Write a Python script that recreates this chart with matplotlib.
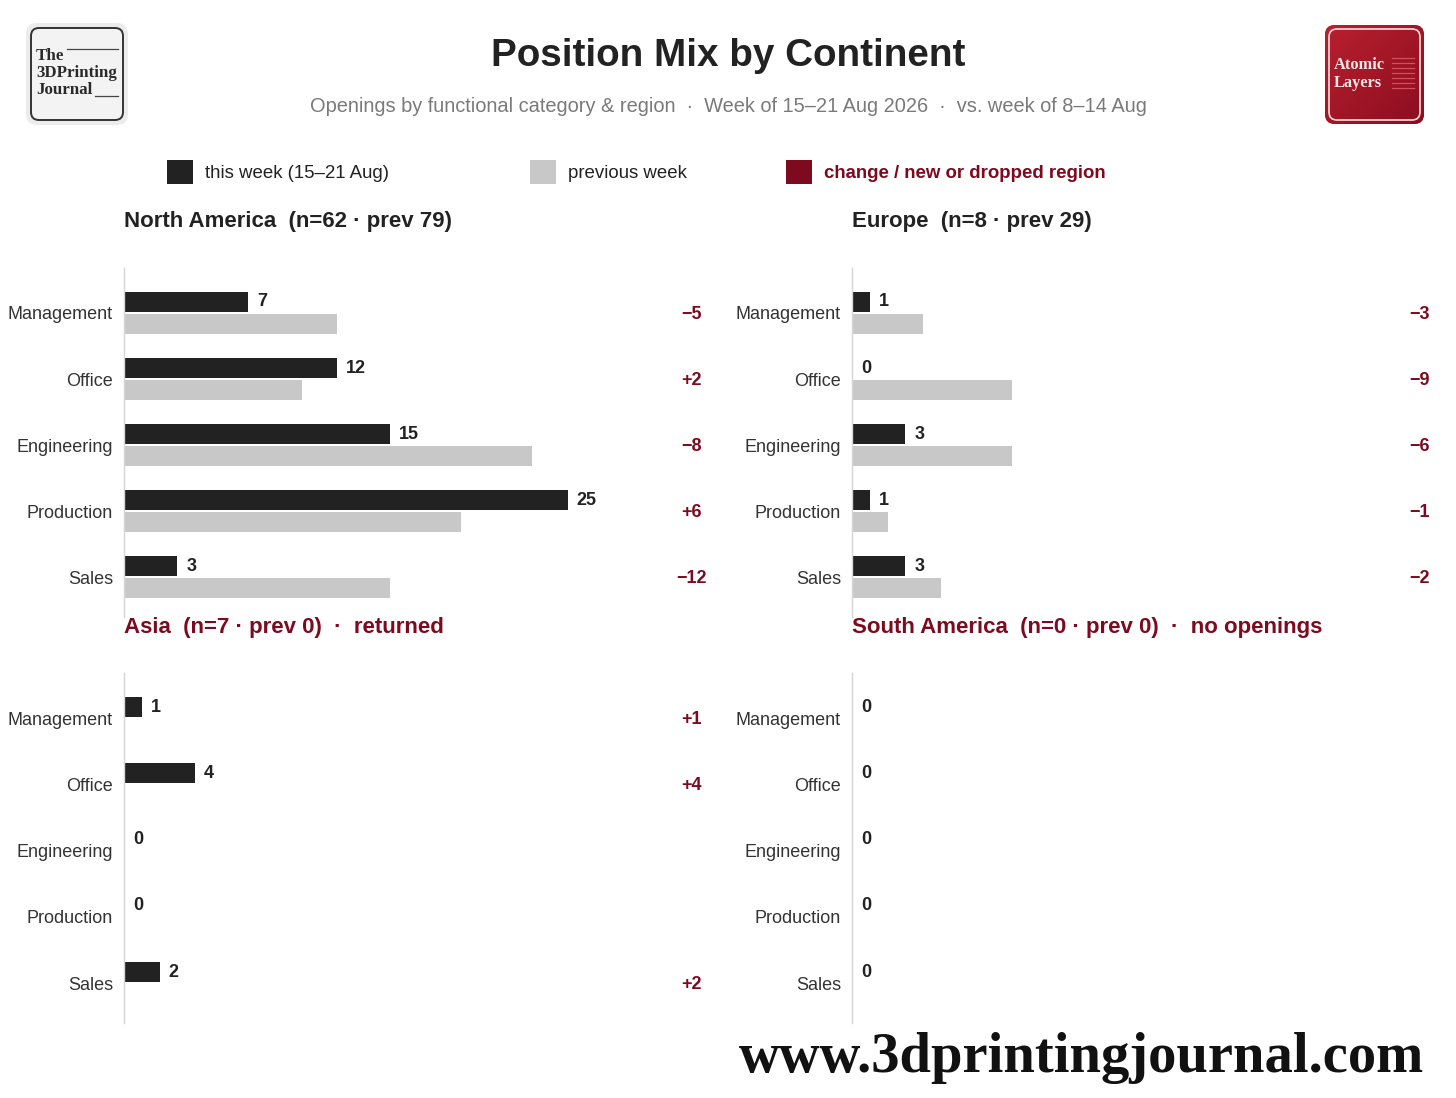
import numpy as np
import matplotlib
matplotlib.use("Agg")
from matplotlib import pyplot as plt
from matplotlib.patches import FancyBboxPatch, Rectangle

plt.rcParams['font.family'] = ['Liberation Sans', 'DejaVu Sans']

categories = ['Management', 'Office', 'Engineering', 'Production', 'Sales']

na_this = [7, 12, 15, 25, 3]
na_prev = [12, 10, 23, 19, 15]
eu_this = [1, 0, 3, 1, 3]
eu_prev = [4, 9, 9, 2, 5]
as_this = [1, 4, 0, 0, 2]
as_prev = [0, 0, 0, 0, 0]
sa_this = [0, 0, 0, 0, 0]
sa_prev = [0, 0, 0, 0, 0]

panel_titles = ['North America  (n=62 · prev 79)',
                'Europe  (n=8 · prev 29)',
                'Asia  (n=7 · prev 0)  ·  returned',
                'South America  (n=0 · prev 0)  ·  no openings']
title_red = [False, False, True, True]

DARK = '#222222'
GRAY = '#c8c8c8'
RED = '#7d0a1e'

W, H = 1456, 1098
fig = plt.figure(figsize=(W / 100, H / 100), dpi=100)
fig.patch.set_facecolor('white')

def fx(px):
    return px / W

def fy(py):
    return 1 - py / H

# decoration layer in pixel coords
deco = fig.add_axes([0, 0, 1, 1], zorder=0)
deco.set_xlim(0, W)
deco.set_ylim(H, 0)
deco.axis('off')
deco.patch.set_alpha(0)

# left logo
deco.add_patch(FancyBboxPatch((26, 23), 102, 102, boxstyle='round,pad=0,rounding_size=11',
                              fc='#ececec', ec='none'))
deco.add_patch(FancyBboxPatch((31, 28), 92, 92, boxstyle='round,pad=0,rounding_size=8',
                              fc='#f3f3f3', ec='#333333', lw=1.4))
for txt, yy in [('The', 56), ('3DPrinting', 73), ('Journal', 90)]:
    deco.text(36, yy, txt, family='Liberation Serif', weight='bold', fontsize=12.2,
              color='#2a2a2a', va='center', ha='left')
deco.plot([67, 118], [49, 49], color='#444444', lw=0.9)
deco.plot([95, 118], [96, 96], color='#444444', lw=0.9)

# right logo
red_box = FancyBboxPatch((1325, 25), 99, 99, boxstyle='round,pad=0,rounding_size=10',
                         fc='#a0152a', ec='none')
deco.add_patch(red_box)
grad = np.linspace(0, 1, 64)[None, :] + np.linspace(0, 1, 64)[:, None]
im = deco.imshow(grad, extent=[1325, 1424, 124, 25], cmap=matplotlib.colors.LinearSegmentedColormap.from_list(
    'rg', ['#b8202e', '#8c0d20']), aspect='auto', zorder=1)
im.set_clip_path(red_box)
deco.add_patch(FancyBboxPatch((1329, 29), 91, 91, boxstyle='round,pad=0,rounding_size=8',
                              fc='none', ec='#f4dede', lw=1.2, zorder=2))
for txt, yy in [('Atomic', 65), ('Layers', 83)]:
    deco.text(1334, yy, txt, family='Liberation Serif', weight='bold', fontsize=11.8,
              color='#f6e8e8', va='center', ha='left', zorder=3)
for yy in np.arange(58, 92, 5):
    deco.plot([1392, 1414], [yy, yy], color='#d2505c', lw=0.9, zorder=3)
deco.set_xlim(0, W)
deco.set_ylim(H, 0)

# title and subtitle
fig.text(fx(728), fy(56), 'Position Mix by Continent', ha='center', va='center',
         fontsize=27.8, weight='bold', color=DARK)
fig.text(fx(728), fy(106),
         'Openings by functional category & region  ·  Week of 15–21 Aug 2026  ·  vs. week of 8–14 Aug',
         ha='center', va='center', fontsize=14.4, color='#7a7a7a')

# legend
legend_items = [(167, DARK, 'this week (15–21 Aug)', DARK, 'normal'),
                (530, GRAY, 'previous week', DARK, 'normal'),
                (786, RED, 'change / new or dropped region', RED, 'bold')]
for x0, col, label, tcol, tw in legend_items:
    deco.add_patch(Rectangle((x0, 160), 26, 24, fc=col, ec='none'))
    deco.text(x0 + 38, 174, label, color=tcol, weight=tw, fontsize=13.4, va='center', ha='left')

# watermark
fig.text(fx(1424), fy(1058), 'www.3dprintingjournal.com', ha='right', va='center',
         family='Liberation Serif', weight='bold', fontsize=40.8, color='#111111')

# panels
panels = [(na_this, na_prev, 124, 268, 617),
          (eu_this, eu_prev, 852, 268, 617),
          (as_this, as_prev, 124, 673, 1023),
          (sa_this, sa_prev, 852, 673, 1023)]
ax_w = 577
y = np.arange(len(categories))
off, bh = 0.167, 0.30

for i, (this, prev, left, top, bottom) in enumerate(panels):
    ax = fig.add_axes([fx(left), fy(bottom), ax_w / W, (bottom - top) / H], zorder=2)
    ax.patch.set_alpha(0)
    ax.barh(y - off, this, height=bh, color=DARK)
    ax.barh(y + off, prev, height=bh, color=GRAY)
    ax.set_xlim(0, 32.5)
    ax.set_ylim(4.6, -0.68)
    ax.set_yticks(y)
    ax.set_yticklabels(categories, fontsize=13, color='#333333')
    ax.tick_params(axis='y', length=0, pad=8)
    ax.set_xticks([])
    for s in ['top', 'right', 'bottom']:
        ax.spines[s].set_visible(False)
    ax.spines['left'].set_color('#d5d5d5')
    ax.spines['left'].set_linewidth(1)
    for k, v in enumerate(this):
        ax.annotate(str(v), (v, y[k] - off), xytext=(6.5, 0), textcoords='offset points',
                    ha='left', va='center', fontsize=13, weight='bold', color=DARK)
        d = v - prev[k]
        if d != 0:
            s = ('+%d' % d) if d > 0 else ('−%d' % abs(d))
            ax.text(0.984, y[k] + 0.02, s, transform=ax.get_yaxis_transform(), ha='center', va='center',
                    fontsize=13, weight='bold', color=RED)
    ax.text(0, 1 + 46 / (bottom - top), panel_titles[i], transform=ax.transAxes,
            ha='left', va='center', fontsize=16, weight='bold',
            color=RED if title_red[i] else DARK)

fig.savefig('out.png', dpi=100, facecolor='white')
